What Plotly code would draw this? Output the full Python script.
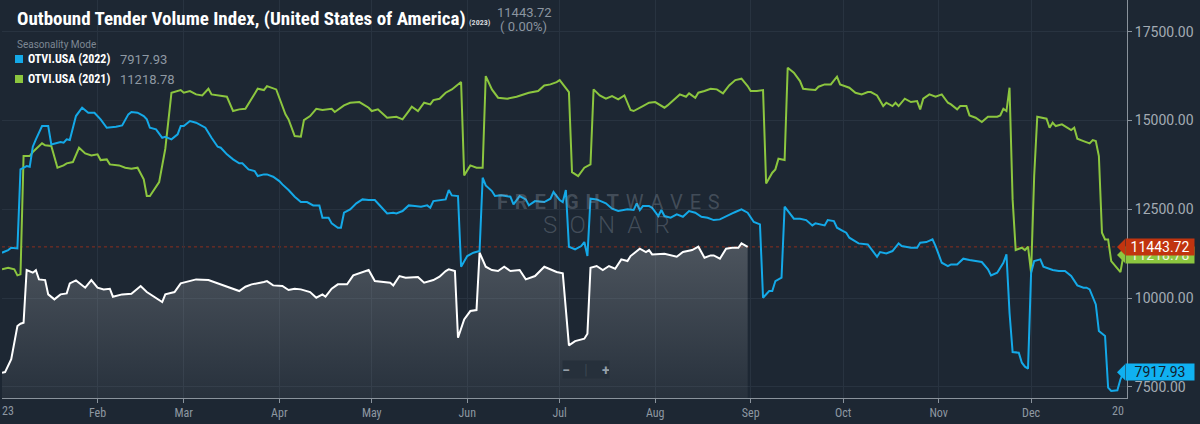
import pandas as pd
import plotly.graph_objects as go

START = pd.Timestamp("2023-01-01")

# seasonality mode: every year is drawn on the 2023 calendar
# (day offset from Jan 1, index value)
otvi_2023 = [
    (0, 7900), (1, 7920), (3, 8280), (5, 9216), (6, 9280), (7, 9309), (8, 10792), (10, 10717),
    (11, 10790), (12, 10529), (14, 10510), (15, 10107), (17, 9966), (19, 10107), (21, 10135),
    (22, 10417), (24, 10501), (26, 10360), (27, 10295), (29, 10510), (31, 10295), (33, 10248),
    (35, 10266), (36, 10041), (39, 10107), (42, 10126), (45, 10342), (47, 10172), (49, 10060),
    (52, 9891), (53, 10107), (56, 10172), (58, 10417), (60, 10454), (63, 10529), (67, 10510),
    (71, 10389), (74, 10295), (77, 10201), (79, 10323), (81, 10389), (85, 10454), (86, 10482),
    (88, 10360), (91, 10342), (93, 10229), (95, 10266), (97, 10248), (100, 10172), (102, 10013),
    (104, 10107), (105, 10041), (107, 10266), (109, 10389), (112, 10389), (114, 10642),
    (117, 10736), (119, 10792), (121, 10482), (124, 10454), (126, 10435), (127, 10360),
    (129, 10623), (131, 10576), (135, 10595), (137, 10435), (140, 10510), (142, 10604),
    (144, 10764), (145, 10811), (147, 10764), (148, 8887), (150, 9403), (152, 9638), (154, 9666),
    (155, 11280), (157, 10886), (159, 10792), (161, 10764), (163, 10886), (165, 10764),
    (168, 10792), (170, 10529), (173, 10623), (176, 10886), (180, 10736), (182, 10698),
    (184, 8671), (186, 8793), (189, 8859), (190, 9000), (191, 10858), (193, 10905), (195, 10792),
    (197, 10905), (199, 10830), (201, 11092), (203, 11045), (204, 11186), (207, 11392),
    (209, 11299), (210, 11355), (211, 11233), (215, 11252), (217, 11214), (219, 11167),
    (221, 11299), (224, 11355), (226, 11449), (228, 11139), (230, 11205), (231, 11205),
    (233, 11111), (235, 11392), (237, 11420), (239, 11420), (240, 11543), (242, 11443.72),
]

otvi_2022 = [
    (0, 11280), (2, 11355), (3, 11420), (5, 11400), (6, 13626), (8, 13720), (9, 13700),
    (10, 14264), (11, 14470), (13, 14845), (15, 14845), (16, 14329), (19, 14395), (20, 14376),
    (21, 14470), (22, 14451), (24, 15127), (26, 15362), (28, 15221), (30, 15221), (32, 15033),
    (34, 14798), (37, 14827), (39, 14864), (41, 15174), (42, 15240), (44, 15221), (46, 15127),
    (47, 15033), (48, 14798), (50, 14752), (52, 14517), (53, 14545), (55, 14470), (57, 14611),
    (58, 14845), (59, 14845), (61, 14986), (63, 14939), (64, 14892), (66, 14798), (68, 14517),
    (70, 14264), (71, 14236), (73, 14048), (75, 13907), (77, 13795), (78, 13795), (80, 13626),
    (82, 13579), (83, 13438), (85, 13485), (86, 13485), (88, 13419), (90, 13297), (91, 13203),
    (93, 13044), (95, 12856), (97, 12706), (99, 12706), (101, 12612), (103, 12612), (104, 12265),
    (106, 12265), (107, 12106), (109, 11984), (110, 11984), (111, 12406), (113, 12500),
    (115, 12669), (117, 12781), (119, 12762), (121, 12762), (123, 12575), (125, 12387),
    (127, 12406), (128, 12387), (130, 12453), (132, 12612), (134, 12594), (136, 12575),
    (138, 12612), (139, 12547), (140, 12734), (142, 12762), (144, 12781), (145, 13044),
    (146, 12894), (148, 12875), (149, 10886), (151, 11186), (153, 11280), (155, 11327),
    (156, 13391), (157, 13175), (159, 13016), (160, 12875), (162, 12894), (165, 12856),
    (166, 12640), (168, 12875), (170, 12781), (171, 12612), (173, 12734), (176, 12706),
    (178, 12800), (179, 12988), (181, 12762), (182, 12706), (183, 13044), (184, 11449),
    (186, 11374), (188, 11468), (189, 11580), (190, 11186), (191, 12800), (193, 12781),
    (196, 12669), (198, 12518), (200, 12453), (203, 12500), (205, 12481), (206, 12669),
    (207, 12481), (208, 12594), (210, 12594), (211, 12547), (213, 12312), (214, 12481),
    (215, 12312), (217, 12265), (219, 12359), (221, 12293), (223, 12453), (225, 12406),
    (227, 12293), (229, 12265), (231, 12199), (233, 12218), (235, 12312), (237, 12387),
    (238, 12425), (240, 12500), (242, 12406), (244, 12143), (246, 12077), (247, 10013),
    (249, 10201), (250, 10201), (251, 10482), (253, 10576), (254, 12575), (255, 12453),
    (257, 12237), (259, 12237), (261, 12199), (263, 12049), (264, 12106), (267, 12049),
    (268, 12199), (270, 12171), (271, 11984), (273, 11890), (274, 11843), (275, 11702),
    (278, 11543), (281, 11514), (283, 11299), (284, 11167), (285, 11299), (287, 11261),
    (289, 11327), (291, 11543), (292, 11468), (295, 11420), (297, 11420), (298, 11561),
    (300, 11580), (302, 11655), (303, 11468), (305, 10998), (307, 10905), (308, 10951),
    (310, 10951), (312, 11111), (314, 11073), (316, 11045), (318, 11017), (320, 10811),
    (321, 10642), (323, 10717), (325, 10998), (326, 11233), (327, 9591), (328, 8484),
    (330, 8465), (331, 8184), (332, 8071), (333, 8015), (334, 10717), (335, 11045),
    (337, 11092), (338, 10886), (341, 10792), (343, 10764), (345, 10764), (347, 10623),
    (349, 10360), (351, 10295), (352, 10295), (353, 10248), (354, 10060), (355, 9825),
    (356, 9075), (358, 8934), (359, 7480), (360, 7386), (362, 7405), (363, 7715), (364, 7917.93),
]

otvi_2021 = [
    (0, 10811), (2, 10858), (4, 10811), (5, 10642), (6, 10670), (7, 14001), (9, 14001),
    (10, 14114), (13, 14358), (14, 14302), (16, 14283), (18, 13673), (20, 13738), (21, 13795),
    (23, 13832), (25, 14235), (27, 14076), (29, 14020), (31, 14048), (32, 13888), (34, 13907),
    (35, 13767), (38, 13738), (40, 13673), (42, 13645), (44, 13673), (46, 13344), (47, 12875),
    (48, 12875), (50, 13157), (51, 13269), (53, 14207), (55, 15784), (58, 15859), (59, 15784),
    (61, 15831), (63, 15737), (65, 15709), (67, 15896), (68, 15737), (71, 15690), (73, 15671),
    (75, 15268), (77, 15315), (79, 15333), (81, 15596), (83, 15896), (85, 15859), (86, 15971),
    (89, 15877), (90, 15643), (92, 15174), (93, 15033), (95, 14564), (97, 14545), (98, 15014),
    (100, 15127), (102, 15333), (104, 15296), (107, 15333), (108, 15240), (111, 15427),
    (113, 15502), (116, 15521), (119, 15362), (120, 15268), (122, 15315), (123, 15240),
    (125, 15080), (128, 15108), (130, 15033), (132, 15268), (133, 15390), (135, 15268),
    (137, 15502), (139, 15455), (140, 15577), (142, 15615), (144, 15784), (146, 15877),
    (149, 16084), (150, 13457), (152, 13738), (154, 13673), (156, 13673), (157, 16253),
    (159, 15877), (161, 15643), (164, 15615), (167, 15671), (169, 15737), (171, 15784),
    (174, 15831), (176, 15990), (178, 16018), (180, 16084), (181, 16140), (183, 15924),
    (184, 15803), (185, 13550), (187, 13438), (189, 13673), (191, 13767), (192, 15878),
    (194, 15709), (196, 15615), (198, 15690), (200, 15596), (202, 15709), (204, 15296),
    (205, 15268), (208, 15408), (210, 15502), (212, 15521), (215, 15362), (216, 15427),
    (218, 15577), (220, 15737), (222, 15671), (223, 15765), (225, 15643), (226, 15784),
    (228, 15831), (230, 15896), (232, 15878), (234, 15765), (236, 15990), (238, 16140),
    (240, 16178), (242, 15971), (243, 15831), (245, 15831), (247, 15859), (248, 13231),
    (250, 13532), (251, 13626), (252, 13926), (254, 13888), (255, 16487), (257, 16347),
    (259, 16112), (260, 15896), (262, 15877), (264, 15859), (265, 15953), (267, 16018),
    (269, 16018), (271, 16234), (272, 16018), (275, 15924), (277, 15784), (279, 15737),
    (281, 15803), (282, 15803), (284, 15709), (286, 15408), (287, 15502), (289, 15408),
    (290, 15502), (291, 15408), (293, 15615), (295, 15521), (297, 15549), (298, 15315),
    (299, 15615), (301, 15737), (303, 15671), (305, 15737), (307, 15502), (308, 15455),
    (310, 15315), (311, 15408), (313, 15408), (314, 15146), (316, 15080), (318, 14958),
    (320, 15108), (323, 15108), (324, 15146), (325, 15333), (326, 15268), (327, 15924),
    (328, 12781), (329, 11355), (331, 11420), (332, 11355), (333, 11449), (334, 10717),
    (335, 13438), (336, 15108), (339, 15052), (340, 14798), (341, 14939), (342, 14845),
    (344, 14892), (345, 14845), (347, 14733), (348, 14798), (349, 14489), (351, 14423),
    (353, 14358), (354, 14451), (355, 14423), (356, 14001), (357, 11843), (358, 11655),
    (359, 11655), (360, 11045), (362, 10830), (363, 10736), (364, 11218.78),
]

month_ticks = ["2023-%02d-01" % m for m in range(2, 13)]
month_names = ["Feb", "Mar", "Apr", "May", "Jun", "Jul", "Aug", "Sep", "Oct", "Nov", "Dec"]
y_ticks = [7500, 10000, 12500, 15000, 17500]

last_2023 = otvi_2023[-1][1]
last_2022 = otvi_2022[-1][1]
last_2021 = otvi_2021[-1][1]

BG = "#1d2733"
BLUE = "#14a9e8"
GREEN = "#8cc63f"
RED = "#c1340f"
GRID = "#283340"
AXIS = "#8a939c"
CONDENSED = "Roboto Condensed, Liberation Sans Narrow, DejaVu Sans Condensed, Roboto, sans-serif"


def unpack(pairs):
    days, vals = zip(*pairs)
    return START + pd.to_timedelta(list(days), unit="D"), list(vals)


fig = go.Figure()

x21, y21 = unpack(otvi_2021)
x22, y22 = unpack(otvi_2022)
x23, y23 = unpack(otvi_2023)

fig.add_trace(go.Scatter(x=x21, y=y21, mode="lines", line=dict(color=GREEN, width=2),
                         name="OTVI.USA (2021)", showlegend=False))
fig.add_trace(go.Scatter(x=x22, y=y22, mode="lines", line=dict(color=BLUE, width=2),
                         name="OTVI.USA (2022)", showlegend=False))
fig.add_trace(go.Scatter(x=x23, y=y23, mode="lines", line=dict(color="#ffffff", width=2),
                         fill="tozeroy",
                         fillgradient=dict(type="vertical", start=7190, stop=11800,
                                           colorscale=[[0, "rgba(180,183,186,0.07)"],
                                                       [1, "rgba(180,183,186,0.33)"]]),
                         name="OTVI.USA (2023)", showlegend=False))

# current value marker line
fig.add_shape(type="line", xref="paper", x0=0, x1=1, yref="y", y0=last_2023, y1=last_2023,
              line=dict(color="#8c2f1e", width=1, dash="3px,3px"), layer="below")

# price tags on the right axis (green first so the red one sits on top)
tags = [(last_2021, "%.2f" % last_2021, GREEN, "#eef7e2"),
        (last_2023, "%.2f" % last_2023, RED, "#ffffff"),
        (last_2022, "%.2f" % last_2022, "#10b1f1", "#13202d")]
for val, txt, col, fcol in tags:
    fig.add_shape(type="path", xref="paper", xsizemode="pixel", xanchor=1,
                  yref="y", ysizemode="pixel", yanchor=val,
                  path="M -10,0 L -2,8 L -2,-8 Z", fillcolor=col, line=dict(width=0), layer="above")
    fig.add_annotation(x=1, xref="paper", xanchor="left", xshift=-2, y=val, yref="y",
                       yanchor="middle", text=txt, showarrow=False, bgcolor=col,
                       width=68, height=16, borderpad=0,
                       font=dict(family="Roboto", size=14, color=fcol))

# title block
fig.add_annotation(x=0, xref="paper", xanchor="left", xshift=13, y=1, yref="paper",
                   yanchor="middle", yshift=-18,
                   text="<b>Outbound Tender Volume Index, (United States of America)</b>",
                   showarrow=False, font=dict(family=CONDENSED, size=19, color="#ffffff"))
fig.add_annotation(x=0, xref="paper", xanchor="left", xshift=465, y=1, yref="paper",
                   yanchor="middle", yshift=-22, text="<b>(2023)</b>", showarrow=False,
                   font=dict(family=CONDENSED, size=8, color="#d4d8dc"))
fig.add_annotation(x=0, xref="paper", xanchor="left", xshift=493, y=1, yref="paper",
                   yanchor="middle", yshift=-12, text="%.2f" % last_2023, showarrow=False,
                   font=dict(family="Roboto", size=13, color="#8b95a0"))
fig.add_annotation(x=0, xref="paper", xanchor="left", xshift=496, y=1, yref="paper",
                   yanchor="middle", yshift=-26, text="( 0.00%)", showarrow=False,
                   font=dict(family="Roboto", size=13, color="#8b95a0"))

# legend
fig.add_annotation(x=0, xref="paper", xanchor="left", xshift=13, y=1, yref="paper",
                   yanchor="middle", yshift=-44, text="Seasonality Mode", showarrow=False,
                   font=dict(family="Roboto", size=10, color="#7e8893"))
legend_rows = [("OTVI.USA (2022)", last_2022, BLUE, 59), ("OTVI.USA (2021)", last_2021, GREEN, 79)]
for label, val, col, row in legend_rows:
    fig.add_shape(type="rect", xref="paper", xsizemode="pixel", xanchor=0, x0=13, x1=21,
                  yref="paper", ysizemode="pixel", yanchor=1, y0=-row + 4, y1=-row - 4,
                  fillcolor=col, line=dict(width=0))
    fig.add_annotation(x=0, xref="paper", xanchor="left", xshift=24, y=1, yref="paper",
                       yanchor="middle", yshift=-row, text="<b>%s</b>" % label, showarrow=False,
                       font=dict(family=CONDENSED, size=12, color="#ffffff"))
    fig.add_annotation(x=0, xref="paper", xanchor="left", xshift=116, y=1, yref="paper",
                       yanchor="middle", yshift=-row, text="%.2f" % val, showarrow=False,
                       font=dict(family="Roboto", size=13, color="#8f99a3"))

# watermark
wm = "rgba(150,160,172,0.32)"
fig.add_annotation(x=0.539, xref="paper", y=1, yref="paper", yanchor="middle", yshift=-202,
                   text="<b>F\u2004R\u2004E\u2004I\u2004G\u2004H\u2004T</b>\u2004W\u2004A\u2004V\u2004E\u2004S",
                   showarrow=False, font=dict(family="Roboto", size=20, color=wm))
fig.add_annotation(x=0.537, xref="paper", y=1, yref="paper", yanchor="middle", yshift=-225,
                   text="S\u2002O\u2002N\u2002A\u2002R", showarrow=False,
                   font=dict(family="Roboto", size=24, color=wm, weight=300))

# zoom buttons
fig.add_annotation(x=0.519, xref="paper", y=1, yref="paper", yanchor="middle", yshift=-369,
                   text="<b>\u2212</b>\u2003<span style='color:#3b4652'>|</span>\u2003<b>+</b>",
                   showarrow=False, bgcolor="#26303b", width=46, height=17, borderpad=0,
                   font=dict(family="Roboto", size=14, color="#96a0aa"))

# clipped year labels at both ends of the time axis
fig.add_annotation(x=0, xref="paper", xanchor="left", xshift=-2, y=0, yref="paper",
                   yanchor="middle", yshift=-13, text="23", showarrow=False,
                   font=dict(family=CONDENSED, size=12, color="#8e98a2"))
fig.add_annotation(x=1, xref="paper", xanchor="right", xshift=-1, y=0, yref="paper",
                   yanchor="middle", yshift=-13, text="20", showarrow=False,
                   font=dict(family=CONDENSED, size=12, color="#8e98a2"))

fig.update_layout(
    width=1200, height=424,
    margin=dict(l=2, r=73, t=0, b=26),
    paper_bgcolor=BG, plot_bgcolor=BG,
    showlegend=False,
    xaxis=dict(type="date", range=["2023-01-01", "2024-01-01 03:00"],
               tickvals=month_ticks, ticktext=month_names,
               showgrid=True, gridcolor=GRID, gridwidth=1,
               showline=True, linecolor=AXIS, linewidth=1,
               ticks="outside", ticklen=4, tickcolor=AXIS,
               tickfont=dict(family=CONDENSED, size=12, color="#8e98a2"), zeroline=False),
    yaxis=dict(side="right", range=[7190, 18394], tickvals=y_ticks, tickformat=".2f",
               showgrid=True, gridcolor=GRID, gridwidth=1,
               showline=True, linecolor=AXIS, linewidth=1,
               ticks="outside", ticklen=4, tickcolor=AXIS,
               tickfont=dict(family="Roboto", size=14, color="#a3abb3"), zeroline=False),
)

fig.write_html("out.html", config={"displayModeBar": False},
               post_script="document.body.style.margin='0';")
